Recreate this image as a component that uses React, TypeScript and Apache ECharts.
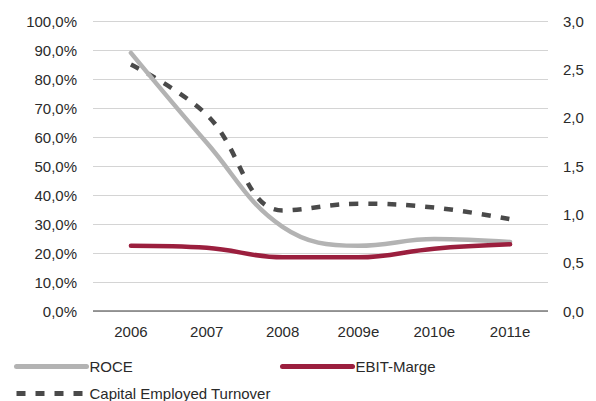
import React, { useEffect, useRef } from "react";
import * as echarts from "echarts";

const categories = ["2006", "2007", "2008", "2009e", "2010e", "2011e"];
const roce = [89, 58, 29, 22.5, 24.8, 23.8];
const ebitMarge = [22.5, 21.8, 18.5, 18.5, 21.5, 23];
const capitalEmployedTurnover = [2.55, 2.03, 1.04, 1.11, 1.07, 0.95];

const FONT = "'Liberation Sans', Arial, sans-serif";
const TEXT = "#2a2a2a";

export default function App() {
  const ref = useRef<HTMLDivElement>(null);
  useEffect(() => {
    if (!ref.current) return;
    const chart = echarts.init(ref.current, undefined, { renderer: "svg" });
    const legendText = { fontFamily: FONT, fontSize: 15, color: TEXT, padding: [0, 0, 0, -2] };
    const legendBase = {
      itemWidth: 70,
      itemHeight: 14,
      textStyle: legendText,
      padding: 0,
      itemStyle: { opacity: 0 },
      lineStyle: { width: 5 },
    };
    chart.setOption({
      animation: false,
      textStyle: { fontFamily: FONT },
      grid: { left: 93, right: 48, top: 21, bottom: 90 },
      legend: [
        { ...legendBase, data: ["ROCE"], left: 14, top: 359 },
        { ...legendBase, data: ["EBIT-Marge"], left: 280, top: 359 },
        { ...legendBase, data: ["Capital Employed Turnover"], left: 14, top: 386 },
      ],
      xAxis: {
        type: "category",
        data: categories,
        boundaryGap: true,
        axisLine: { show: false },
        axisTick: { show: false },
        axisLabel: { fontFamily: FONT, fontSize: 15, color: TEXT, margin: 13 },
      },
      yAxis: [
        {
          type: "value",
          min: 0,
          max: 100,
          interval: 10,
          axisLine: { show: false },
          axisTick: { show: false },
          splitLine: { lineStyle: { color: "#d4d4d4", width: 1 } },
          axisLabel: {
            fontFamily: FONT,
            fontSize: 15,
            color: TEXT,
            margin: 16,
            formatter: (v: number) => v.toFixed(1).replace(".", ",") + "%",
          },
        },
        {
          type: "value",
          min: 0,
          max: 3,
          interval: 0.5,
          position: "right",
          axisLine: { show: false },
          axisTick: { show: false },
          splitLine: { show: false },
          axisLabel: {
            fontFamily: FONT,
            fontSize: 15,
            color: TEXT,
            margin: 15,
            formatter: (v: number) => v.toFixed(1).replace(".", ","),
          },
        },
      ],
      series: [
        {
          name: "ROCE",
          type: "line",
          data: roce,
          smooth: 0.4,
          symbol: "none",
          z: 3,
          lineStyle: { color: "#b3b3b3", width: 4.5, cap: "round" },
          itemStyle: { color: "#b3b3b3" },
        },
        {
          name: "EBIT-Marge",
          type: "line",
          data: ebitMarge,
          smooth: 0.4,
          symbol: "none",
          z: 4,
          lineStyle: { color: "#9b1f3e", width: 4.5, cap: "round" },
          itemStyle: { color: "#9b1f3e" },
        },
        {
          name: "Capital Employed Turnover",
          type: "line",
          yAxisIndex: 1,
          data: capitalEmployedTurnover,
          smooth: 0.4,
          symbol: "none",
          z: 2,
          lineStyle: { color: "#4a4a4a", width: 4.5, type: [9, 10] },
          itemStyle: { color: "#4a4a4a" },
        },
        {
          type: "line",
          data: [],
          markLine: {
            silent: true,
            symbol: "none",
            label: { show: false },
            lineStyle: { color: "#7a7a7a", width: 1.5, type: "solid" },
            data: [{ yAxis: 0 }],
          },
        },
      ],
    });
    return () => chart.dispose();
  }, []);
  return (
    <div
      ref={ref}
      style={{ position: "absolute", left: 0, top: 0, width: 596, height: 401 }}
    />
  );
}
